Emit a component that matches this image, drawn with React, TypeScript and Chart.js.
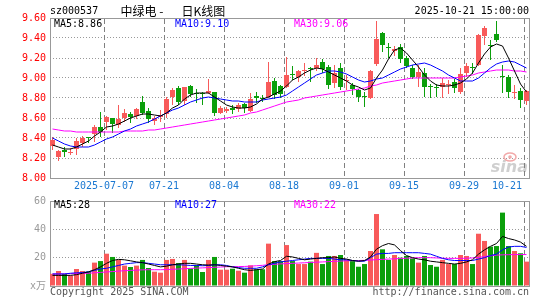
import React, { useEffect, useRef } from "react";
import { Chart, registerables } from "chart.js";

Chart.register(...registerables);

// ---------- data ----------
const dates = [
  "06-24", "06-25", "06-26", "06-27", "06-30", "07-01", "07-02", "07-03", "07-04", "07-07",
  "07-08", "07-09", "07-10", "07-11", "07-14", "07-15", "07-16", "07-17", "07-18", "07-21",
  "07-22", "07-23", "07-24", "07-25", "07-28", "07-29", "07-30", "07-31", "08-01", "08-04",
  "08-05", "08-06", "08-07", "08-08", "08-11", "08-12", "08-13", "08-14", "08-15", "08-18",
  "08-19", "08-20", "08-21", "08-22", "08-25", "08-26", "08-27", "08-28", "08-29", "09-01",
  "09-02", "09-03", "09-04", "09-05", "09-08", "09-09", "09-10", "09-11", "09-12", "09-15",
  "09-16", "09-17", "09-18", "09-19", "09-22", "09-23", "09-24", "09-25", "09-26", "09-29",
  "09-30", "10-09", "10-10", "10-13", "10-14", "10-15", "10-16", "10-17", "10-20", "10-21",
];

const openPrice = [
  8.32, 8.21, 8.28, 8.25, 8.29, 8.35, 8.41, 8.44, 8.51, 8.56,
  8.60, 8.53, 8.60, 8.64, 8.62, 8.76, 8.67, 8.57, 8.61, 8.64,
  8.81, 8.90, 8.77, 8.92, 8.85, 8.85, 8.85, 8.86, 8.65, 8.67,
  8.70, 8.69, 8.74, 8.67, 8.82, 8.80, 8.81, 8.97, 8.92, 8.91,
  9.04, 9.01, 9.07, 9.10, 9.10, 9.16, 9.11, 8.95, 9.10, 8.97,
  8.93, 8.88, 8.82, 8.80, 9.14, 9.45, 9.31, 9.27, 9.31, 9.20,
  9.10, 9.01, 9.05, 8.92, 8.91, 8.91, 8.93, 8.96, 8.86, 9.05,
  9.11, 9.13, 9.42, 9.33, 9.44, 9.02, 9.01, 8.85, 8.87, 8.77,
];
const highPrice = [
  8.41, 8.28, 8.31, 8.30, 8.40, 8.42, 8.41, 8.53, 8.66, 8.62,
  8.60, 8.73, 8.69, 8.66, 8.70, 8.82, 8.70, 8.62, 8.68, 8.81,
  8.90, 8.92, 8.91, 8.93, 8.89, 8.86, 8.99, 8.86, 8.72, 8.71,
  8.73, 8.75, 8.75, 8.85, 8.86, 8.83, 9.16, 9.00, 8.93, 9.21,
  9.12, 9.08, 9.15, 9.11, 9.20, 9.19, 9.13, 9.13, 9.15, 9.03,
  8.95, 8.89, 8.86, 9.08, 9.57, 9.46, 9.35, 9.32, 9.34, 9.22,
  9.13, 9.13, 9.10, 8.94, 8.94, 9.00, 8.98, 8.99, 9.10, 9.15,
  9.15, 9.44, 9.52, 9.38, 9.57, 9.13, 9.03, 8.93, 8.90, 8.88,
];
const lowPrice = [
  8.28, 8.17, 8.21, 8.23, 8.23, 8.31, 8.35, 8.36, 8.41, 8.48,
  8.45, 8.50, 8.56, 8.55, 8.59, 8.63, 8.55, 8.53, 8.56, 8.60,
  8.73, 8.73, 8.73, 8.81, 8.75, 8.73, 8.84, 8.62, 8.64, 8.65,
  8.64, 8.66, 8.65, 8.66, 8.75, 8.76, 8.80, 8.79, 8.80, 8.90,
  8.98, 8.96, 9.02, 8.96, 9.07, 9.05, 8.89, 8.90, 8.88, 8.88,
  8.83, 8.76, 8.71, 8.79, 9.12, 9.26, 9.20, 9.22, 9.15, 9.10,
  8.99, 8.91, 8.81, 8.80, 8.81, 8.80, 8.84, 8.85, 8.84, 9.01,
  9.04, 9.12, 9.33, 9.18, 9.36, 8.85, 8.80, 8.79, 8.70, 8.73,
];
const closePrice = [
  8.38, 8.27, 8.26, 8.26, 8.37, 8.40, 8.40, 8.51, 8.46, 8.61,
  8.54, 8.59, 8.65, 8.61, 8.69, 8.65, 8.59, 8.60, 8.63, 8.79,
  8.88, 8.76, 8.91, 8.84, 8.84, 8.84, 8.87, 8.65, 8.70, 8.69,
  8.68, 8.73, 8.70, 8.79, 8.80, 8.79, 8.96, 8.83, 8.84, 9.03,
  9.03, 9.07, 9.08, 9.09, 9.13, 9.09, 8.93, 9.05, 8.91, 8.98,
  8.89, 8.81, 8.81, 9.07, 9.39, 9.33, 9.30, 9.29, 9.19, 9.12,
  9.01, 9.06, 8.91, 8.91, 8.90, 8.95, 8.94, 8.90, 9.04, 9.12,
  9.10, 9.43, 9.50, 9.32, 9.38, 9.01, 8.86, 8.86, 8.78, 8.87,
];

const ma5 = [
  8.33, 8.31, 8.29, 8.29, 8.31, 8.34, 8.37, 8.42, 8.46, 8.51,
  8.52, 8.54, 8.57, 8.60, 8.62, 8.64, 8.64, 8.63, 8.62, 8.65,
  8.70, 8.73, 8.79, 8.83, 8.85, 8.85, 8.85, 8.81, 8.77, 8.73,
  8.71, 8.70, 8.70, 8.71, 8.74, 8.79, 8.81, 8.84, 8.87, 8.92,
  8.98, 9.01, 9.05, 9.08, 9.10, 9.09, 9.06, 9.03, 9.00, 8.97,
  8.93, 8.91, 8.88, 8.90, 9.00, 9.08, 9.19, 9.28, 9.30, 9.25,
  9.18, 9.11, 9.03, 8.97, 8.93, 8.92, 8.92, 8.93, 8.95, 8.99,
  9.05, 9.15, 9.24, 9.31, 9.34, 9.32, 9.20, 9.07, 8.94, 8.86,
];
const ma10 = [
  8.40, 8.37, 8.34, 8.32, 8.31, 8.31, 8.31, 8.33, 8.36, 8.39,
  8.41, 8.44, 8.47, 8.49, 8.52, 8.54, 8.56, 8.59, 8.62, 8.65,
  8.68, 8.70, 8.73, 8.76, 8.78, 8.80, 8.81, 8.80, 8.79, 8.78,
  8.77, 8.77, 8.76, 8.76, 8.76, 8.78, 8.79, 8.80, 8.81, 8.83,
  8.87, 8.91, 8.95, 8.99, 9.03, 9.05, 9.07, 9.07, 9.06, 9.04,
  9.01, 8.98, 8.96, 8.97, 8.99, 9.00, 9.03, 9.06, 9.09, 9.11,
  9.13, 9.14, 9.15, 9.13, 9.10, 9.07, 9.03, 9.00, 8.97, 8.97,
  8.97, 9.00, 9.05, 9.10, 9.14, 9.16, 9.17, 9.16, 9.13, 9.10,
];
const ma30 = [
  8.49, 8.48, 8.47, 8.47, 8.46, 8.46, 8.46, 8.46, 8.46, 8.46,
  8.46, 8.46, 8.47, 8.47, 8.47, 8.47, 8.48, 8.48, 8.49, 8.50,
  8.51, 8.52, 8.53, 8.54, 8.55, 8.56, 8.57, 8.58, 8.59, 8.60,
  8.61, 8.62, 8.63, 8.65, 8.66, 8.68, 8.70, 8.72, 8.74, 8.76,
  8.77, 8.78, 8.80, 8.81, 8.82, 8.83, 8.84, 8.85, 8.86, 8.87,
  8.88, 8.89, 8.90, 8.92, 8.93, 8.95, 8.96, 8.97, 8.98, 8.99,
  9.00, 9.00, 9.00, 9.00, 9.00, 9.00, 9.00, 9.00, 9.01, 9.02,
  9.03, 9.05, 9.06, 9.07, 9.08, 9.08, 9.08, 9.07, 9.07, 9.06,
];

const volume = [
  8.6, 10.6, 8.5, 7.3, 12.0, 10.6, 10.1, 16.5, 17.6, 22.8,
  20.5, 18.4, 14.4, 13.4, 14.4, 18.4, 12.7, 10.1, 9.4, 18.4,
  19.1, 16.2, 18.4, 12.2, 14.6, 9.9, 18.4, 20.5, 11.5, 11.5,
  12.2, 10.8, 9.4, 14.6, 11.8, 11.8, 29.9, 17.6, 17.6, 28.9,
  17.6, 15.5, 15.5, 17.2, 23.4, 15.5, 21.2, 21.2, 21.9, 18.4,
  17.6, 13.6, 15.5, 24.7, 50.8, 25.9, 18.4, 21.9, 20.0, 21.2,
  19.5, 16.5, 21.2, 14.8, 13.6, 18.4, 15.5, 15.5, 21.9, 21.2,
  15.5, 36.9, 31.8, 27.8, 28.2, 51.8, 28.2, 24.7, 23.1, 17.2,
];
const vma5 = [
  7.5, 7.5, 7.5, 7.5, 8.0, 9.0, 10.0, 11.5, 13.5, 16.0,
  18.0, 18.8, 18.5, 17.8, 17.0, 16.5, 15.5, 14.5, 13.5, 14.0,
  15.0, 15.5, 16.0, 16.0, 15.5, 15.0, 14.8, 15.0, 14.5, 14.0,
  13.5, 12.5, 11.5, 11.0, 11.5, 12.0, 15.5, 17.2, 18.0, 21.0,
  20.5, 19.5, 18.5, 19.0, 19.5, 20.0, 20.0, 20.5, 19.5, 19.0,
  18.0, 17.5, 18.0, 20.5, 26.0, 28.5, 30.0, 29.0, 25.0, 21.5,
  20.0, 19.0, 18.5, 17.5, 17.0, 16.5, 16.0, 15.5, 16.0, 17.0,
  18.5, 22.5, 25.5, 28.0, 30.0, 35.0, 33.5, 32.5, 31.0, 28.0,
];
const vma10 = [
  8.5, 8.5, 8.5, 9.0, 9.3, 9.5, 10.0, 11.0, 12.0, 12.5,
  13.5, 14.5, 15.5, 16.0, 16.5, 16.5, 16.0, 15.5, 15.0, 15.0,
  15.0, 15.0, 14.8, 14.5, 14.5, 14.3, 14.5, 15.0, 15.0, 14.5,
  13.5, 13.0, 12.5, 12.5, 12.5, 13.5, 15.0, 16.0, 17.0, 17.5,
  18.0, 18.5, 19.0, 19.5, 19.5, 19.5, 19.5, 19.0, 18.5, 18.5,
  18.0, 17.5, 17.5, 20.0, 22.5, 23.0, 23.0, 23.5, 23.5, 23.5,
  23.5, 23.5, 23.0, 22.5, 21.0, 19.5, 18.5, 18.0, 18.0, 18.0,
  18.0, 19.0, 20.0, 21.5, 22.5, 25.5, 27.5, 28.0, 28.0, 27.2,
];
const vma30 = [
  8.5, 8.5, 8.6, 8.7, 8.8, 8.9, 9.0, 9.3, 9.6, 9.9,
  10.2, 10.5, 10.8, 11.0, 11.2, 11.4, 11.5, 11.5, 11.5, 11.6,
  11.8, 12.0, 12.2, 12.4, 12.6, 12.8, 13.0, 13.2, 13.4, 13.6,
  13.6, 13.7, 13.8, 14.0, 14.3, 14.6, 15.0, 15.3, 15.6, 15.8,
  16.0, 16.2, 16.4, 16.6, 16.8, 17.0, 17.2, 17.4, 17.6, 17.8,
  17.9, 18.0, 18.1, 18.3, 18.6, 18.8, 19.0, 19.2, 19.4, 19.6,
  19.8, 20.0, 20.0, 20.0, 19.8, 19.6, 19.5, 19.5, 19.5, 19.6,
  19.8, 20.2, 20.8, 21.3, 21.8, 22.0, 22.1, 22.2, 22.2, 22.2,
];

const priceTicks = [8.0, 8.2, 8.4, 8.6, 8.8, 9.0, 9.2, 9.4, 9.6];
const volumeTicks = [0, 20, 40, 60];
const dateTickIndex = [9, 19, 29, 39, 49, 59, 69, 79];
const dateTickText = ["2025-07-07", "07-21", "08-04", "08-18", "09-01", "09-15", "09-29", "10-21"];

// ---------- styles ----------
const RED = "#f85a5a";
const GREEN = "#0b9f0b";
const GRID = "#999999";
const VGRID = "#808080";
const FRAME = "#999999";
const MONO = "'DejaVu Sans Mono', 'Liberation Mono', monospace";
const CJK = "'Noto Sans CJK SC', 'Noto Sans', sans-serif";
const HALF = 2.5 / 6; // from a day's centre to the left edge of its body, in days

const candleColors = openPrice.map((o, i) => (closePrice[i] >= o ? RED : GREEN));
const pts = (arr: number[]) => arr.map((y, x) => ({ x, y }));

function text(ctx: any, s: string, x: number, y: number, color: string, align = "left", font = `10px ${MONO}`) {
  ctx.font = font;
  ctx.fillStyle = color;
  ctx.textAlign = align;
  ctx.textBaseline = "middle";
  ctx.fillText(s, x, y);
}

function dayAxis(height: number) {
  return {
    type: "linear",
    min: -HALF,
    max: dates.length - HALF,
    offset: false,
    afterFit: (s: any) => {
      s.height = height;
    },
    ticks: { display: false },
    grid: { display: false, offset: false, drawTicks: false },
    border: { display: false },
  };
}

// dashed separators at the labelled dates, placed through the x scale
function drawDayGrid(chart: any) {
  const { ctx, chartArea: a, scales } = chart;
  const xs = scales.x;
  ctx.save();
  ctx.strokeStyle = VGRID;
  ctx.lineWidth = 1;
  ctx.setLineDash([5, 3]);
  dateTickIndex.forEach((i) => {
    const px = Math.round(xs.getPixelForValue(i - HALF)) + 0.5;
    ctx.beginPath();
    ctx.moveTo(px, a.top + 1);
    ctx.lineTo(px, a.bottom);
    ctx.stroke();
  });
  ctx.restore();
}

const maLine = (label: string, data: number[], color: string) => ({
  type: "line",
  label,
  data: pts(data),
  borderColor: color,
  backgroundColor: color,
  borderWidth: 1,
  pointRadius: 0,
  tension: 0,
  fill: false,
  order: 0,
});

const frame = (ctx: any, a: any) => {
  ctx.save();
  ctx.strokeStyle = FRAME;
  ctx.lineWidth = 1;
  ctx.setLineDash([]);
  ctx.strokeRect(a.left + 0.5, a.top + 0.5, a.right - a.left - 1, a.bottom - a.top);
  ctx.restore();
};

const mainDecor = {
  id: "mainDecor",
  beforeDatasetsDraw(chart: any) {
    const { ctx, chartArea: a } = chart;
    ctx.save();
    ctx.font = "italic bold 16px 'DejaVu Sans', sans-serif";
    ctx.fillStyle = "#cfcfcf";
    ctx.textAlign = "right";
    ctx.textBaseline = "alphabetic";
    ctx.fillText("sina", a.right - 2, a.bottom - 6);
    ctx.strokeStyle = "#f2a9a9";
    ctx.lineWidth = 1.5;
    ctx.beginPath();
    ctx.ellipse(a.right - 20, a.bottom - 21, 6, 4, 0, 0, Math.PI * 2);
    ctx.stroke();
    ctx.fillStyle = "#f2a9a9";
    ctx.beginPath();
    ctx.arc(a.right - 20, a.bottom - 21, 1.8, 0, Math.PI * 2);
    ctx.fill();
    ctx.restore();
    drawDayGrid(chart);
    frame(ctx, a);
  },
  afterDraw(chart: any) {
    const { ctx, scales } = chart;
    const n = dates.length - 1;
    ctx.save();
    text(ctx, "sz000537", 50, 11, "#000");
    text(ctx, "中绿电 -", 120.5, 11, "#000", "left", `12px ${CJK}`);
    text(ctx, "日K线图", 181.5, 11, "#000", "left", `12px ${CJK}`);
    text(ctx, "2025-10-21 15:00:00", 529, 11, "#000", "right");
    text(ctx, `MA5:${ma5[n].toFixed(2)}`, 54, 24, "#000000");
    text(ctx, `MA10:${ma10[n].toFixed(2)}`, 175, 24, "#0000ff");
    text(ctx, `MA30:${ma30[n].toFixed(2)}`, 294, 24, "#ff00ff");
    const xs = scales.x;
    dateTickIndex.forEach((idx, k) => {
      const last = k === dateTickIndex.length - 1;
      const px = xs.getPixelForValue(idx - HALF);
      text(ctx, dateTickText[k], last ? xs.right - 8 : px, 186, "#1a78d2", last ? "right" : "center");
    });
    ctx.restore();
  },
};

const volDecor = {
  id: "volDecor",
  beforeDatasetsDraw(chart: any) {
    drawDayGrid(chart);
    frame(chart.ctx, chart.chartArea);
  },
  afterDraw(chart: any) {
    const { ctx } = chart;
    const n = dates.length - 1;
    ctx.save();
    text(ctx, `MA5:${Math.round(vma5[n])}`, 54, 15.5, "#000000");
    text(ctx, `MA10:${Math.round(vma10[n])}`, 175, 15.5, "#0000ff");
    text(ctx, `MA30:${Math.round(vma30[n])}`, 294, 15.5, "#ff00ff");
    text(ctx, "Copyright 2025 SINA.COM", 50, 102, "#555555");
    text(ctx, "http://finance.sina.com.cn", 529, 102, "#555555", "right");
    ctx.restore();
  },
};

const basePlugins = { legend: { display: false }, tooltip: { enabled: false } };

function makeMain(canvas: HTMLCanvasElement) {
  return new Chart(canvas, {
    type: "bar",
    data: {
      datasets: [
        maLine("MA5", ma5, "#000000"),
        maLine("MA10", ma10, "#0000ff"),
        maLine("MA30", ma30, "#ff00ff"),
        {
          type: "bar",
          label: "body",
          data: openPrice.map((o, i) => ({ x: i, y: [o, closePrice[i]] })),
          backgroundColor: candleColors,
          barThickness: 5,
          minBarLength: 1,
          grouped: false,
          inflateAmount: 0,
          borderWidth: 0,
          order: 1,
        },
        {
          type: "bar",
          label: "wick",
          data: lowPrice.map((l, i) => ({ x: i, y: [l, highPrice[i]] })),
          backgroundColor: candleColors,
          barThickness: 1,
          grouped: false,
          inflateAmount: 0,
          borderWidth: 0,
          order: 2,
        },
      ] as any,
    },
    options: {
      responsive: false,
      animation: false,
      events: [],
      layout: { padding: { left: 0, right: 15, top: 18, bottom: 0 } },
      plugins: basePlugins,
      scales: {
        x: dayAxis(12) as any,
        y: {
          type: "linear",
          min: 8,
          max: 9.6,
          afterBuildTicks: (s: any) => {
            s.ticks = priceTicks.map((v) => ({ value: v }));
          },
          afterFit: (s: any) => {
            s.width = 50;
          },
          ticks: {
            autoSkip: false,
            color: "#ff0000",
            padding: 4,
            font: { family: MONO, size: 10 },
            callback: (v: any) => Number(v).toFixed(2),
          },
          grid: {
            drawTicks: false,
            lineWidth: 1,
            color: (c: any) =>
              c.tick && c.tick.value > 8.001 && c.tick.value < 9.599 ? GRID : "rgba(0,0,0,0)",
          },
          border: { display: false, dash: [1, 2] },
        } as any,
      },
    } as any,
    plugins: [mainDecor],
  });
}

function makeVolume(canvas: HTMLCanvasElement) {
  return new Chart(canvas, {
    type: "bar",
    data: {
      datasets: [
        maLine("MA5", vma5, "#000000"),
        maLine("MA10", vma10, "#0000ff"),
        maLine("MA30", vma30, "#ff00ff"),
        {
          type: "bar",
          label: "volume",
          data: volume.map((v, i) => ({ x: i, y: v })),
          backgroundColor: candleColors,
          barThickness: 5,
          grouped: false,
          inflateAmount: 0,
          borderWidth: 0,
          order: 1,
        },
      ] as any,
    },
    options: {
      responsive: false,
      animation: false,
      events: [],
      layout: { padding: { left: 0, right: 15, top: 11, bottom: 0 } },
      plugins: basePlugins,
      scales: {
        x: dayAxis(14) as any,
        y: {
          type: "linear",
          min: 0,
          max: 60,
          afterBuildTicks: (s: any) => {
            s.ticks = volumeTicks.map((v) => ({ value: v }));
          },
          afterFit: (s: any) => {
            s.width = 50;
          },
          ticks: {
            autoSkip: false,
            color: "#999999",
            padding: 4,
            font: { family: `${MONO}, 'Noto Sans CJK SC'`, size: 10 },
            callback: (v: any) => (Number(v) === 0 ? "x万" : String(v)),
          },
          grid: {
            drawTicks: false,
            lineWidth: 1,
            color: (c: any) =>
              c.tick && c.tick.value > 0.5 && c.tick.value < 59.5 ? GRID : "rgba(0,0,0,0)",
          },
          border: { display: false, dash: [1, 2] },
        } as any,
      },
    } as any,
    plugins: [volDecor],
  });
}

export default function App() {
  const mainRef = useRef<HTMLCanvasElement>(null);
  const volRef = useRef<HTMLCanvasElement>(null);

  useEffect(() => {
    document.body.style.margin = "0";
    const a = makeMain(mainRef.current as HTMLCanvasElement);
    const b = makeVolume(volRef.current as HTMLCanvasElement);
    return () => {
      a.destroy();
      b.destroy();
    };
  }, []);

  return (
    <div style={{ position: "fixed", left: 0, top: 0, width: 545, height: 300, background: "#ffffff" }}>
      <canvas ref={mainRef} width={545} height={190} style={{ display: "block", width: 545, height: 190 }} />
      <canvas ref={volRef} width={545} height={110} style={{ display: "block", width: 545, height: 110 }} />
    </div>
  );
}
